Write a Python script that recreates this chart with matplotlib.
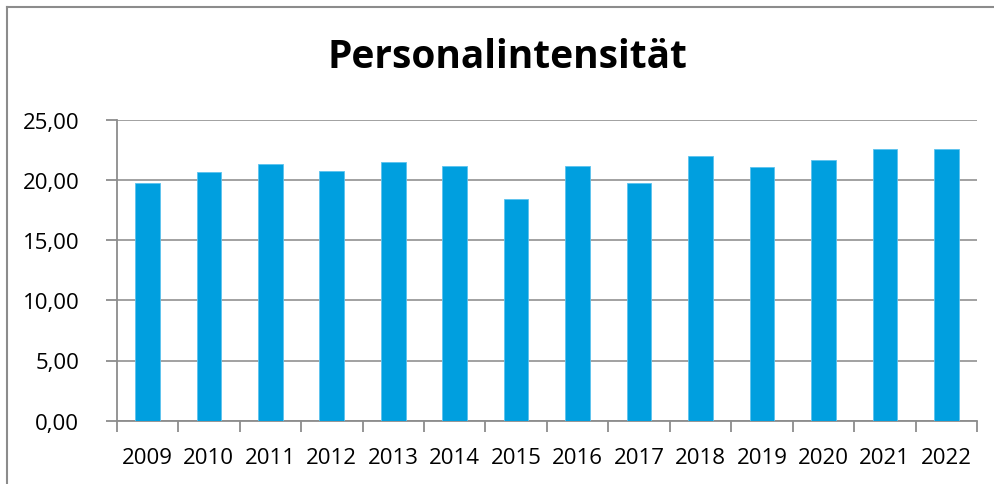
import matplotlib.pyplot as plt
from matplotlib.lines import Line2D
import numpy as np

years = ["2009", "2010", "2011", "2012", "2013", "2014", "2015",
         "2016", "2017", "2018", "2019", "2020", "2021", "2022"]
values = [19.72, 20.64, 21.30, 20.70, 21.50, 21.17, 18.42,
          21.16, 19.75, 22.00, 21.05, 21.68, 22.54, 22.60]
y_ticks = [0, 5, 10, 15, 20, 25]

plt.rcParams['font.family'] = ['Open Sans', 'DejaVu Sans']

W, H = 995, 485
fig = plt.figure(figsize=(W / 100, H / 100), dpi=100)
ax = fig.add_axes([116.7 / W, 1 - 421.7 / H, (977 - 116.7) / W, (421.7 - 120.7) / H])

grey = '#8c8c8c'
x = np.arange(len(years))
ax.bar(x, values, width=0.40, color='#009fdf', edgecolor='#5cc3ee', linewidth=0.6, zorder=3)

ax.set_xlim(-0.5, len(years) - 0.5)
ax.set_ylim(0, 25)
ax.set_yticks(y_ticks)
ax.set_yticklabels([f"{v:.2f}".replace('.', ',') for v in y_ticks], fontsize=16)
ax.yaxis.grid(True, color='#9a9a9a', linewidth=1.3, zorder=0)

# Excel-style ticks between categories, labels centred under bars
ax.set_xticks(np.arange(len(years) + 1) - 0.5)
ax.set_xticklabels([])
ax.set_xticks(x, minor=True)
ax.set_xticklabels(years, minor=True, fontsize=16)
ax.tick_params(axis='x', which='minor', length=0, pad=19)
ax.tick_params(axis='x', which='major', length=8, width=1.3, color=grey)
ax.tick_params(axis='y', length=8, width=1.3, color=grey, pad=19)

for side in ['top', 'right']:
    ax.spines[side].set_visible(False)
for side in ['left', 'bottom']:
    ax.spines[side].set_color(grey)
    ax.spines[side].set_linewidth(1.3)

fig.text(507 / W, 1 - 68 / H, "Personalintensität", fontsize=28, fontweight='bold',
         ha='center', va='baseline')

# chart frame (top and left edges visible)
fig.add_artist(Line2D([7.5 / W, 7.5 / W], [0, 1 - 8 / H], color=grey, linewidth=1.5))
fig.add_artist(Line2D([7.5 / W, 1], [1 - 8 / H, 1 - 8 / H], color=grey, linewidth=1.5))

fig.savefig("out.png", dpi=100)
